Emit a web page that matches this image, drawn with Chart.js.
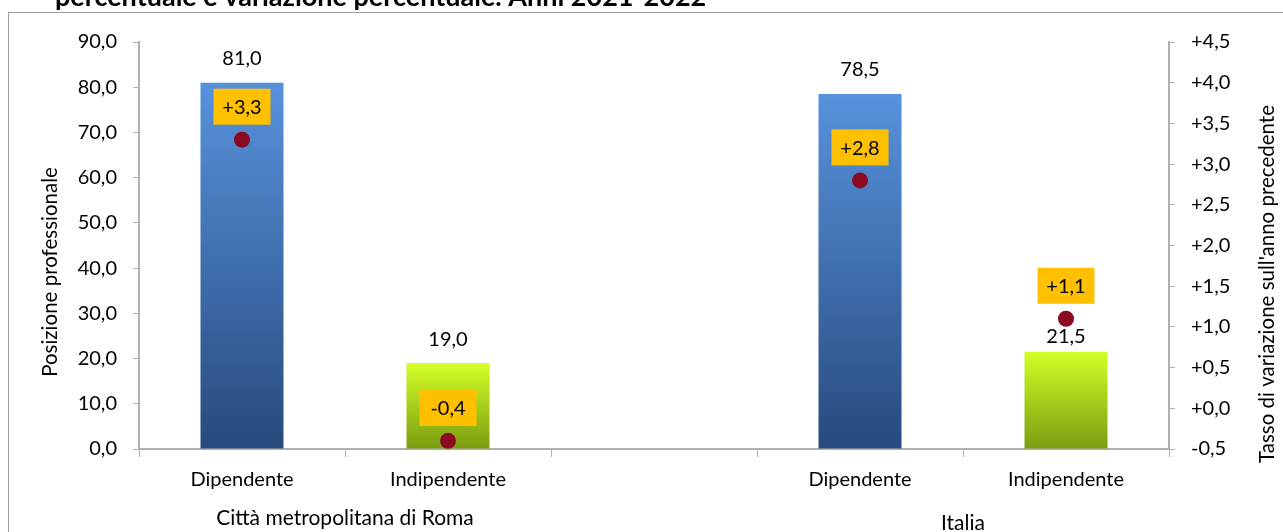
<!DOCTYPE html>
<html>
<head>
<meta charset="utf-8">
<script src="https://cdn.jsdelivr.net/npm/chart.js@4"></script>
<style>
  html, body { margin: 0; padding: 0; background: #fff; overflow: hidden; }
  #wrap { position: absolute; left: 0; top: 0; width: 1283px; height: 532px; }
</style>
</head>
<body>
<div id="wrap"><canvas id="chart"></canvas></div>
<script>
// data
const categories = ['Dipendente', 'Indipendente', '', 'Dipendente', 'Indipendente'];
const groups = ['Città metropolitana di Roma', 'Italia'];
const shares = [81.0, 19.0, null, 78.5, 21.5];        // composizione %
const changes = [3.3, -0.4, null, 2.8, 1.1];          // variazione % 2021-2022
const titleText = 'percentuale e variazione percentuale. Anni 2021-2022';
const leftTitle = 'Posizione professionale';
const rightTitle = "Tasso di variazione sull'anno precedente";

const FONT = 'Lato';
const fmt = v => v.toFixed(1).replace('.', ',');
const fmtSign = v => (v >= 0 ? '+' : '') + fmt(Math.abs(v) < 1e-9 ? 0 : v);

function barFill(ctx) {
  const chart = ctx.chart;
  const i = ctx.dataIndex;
  const blue = categories[i] === 'Dipendente';
  if (!chart.chartArea || ctx.type !== 'data' || ctx.raw == null) return blue ? '#4a7cc0' : '#a8d41a';
  const y = chart.scales.y;
  const top = y.getPixelForValue(ctx.raw);
  const bot = y.getPixelForValue(0);
  const g = chart.ctx.createLinearGradient(0, top, 0, bot);
  if (blue) {
    g.addColorStop(0, '#5792dc');
    g.addColorStop(1, '#284a7d');
  } else {
    g.addColorStop(0, '#d4ff26');
    g.addColorStop(1, '#7a9c10');
  }
  return g;
}

const extras = {
  id: 'extras',
  afterDatasetsDraw(chart) {
    const c = chart.ctx;
    const bars = chart.getDatasetMeta(0).data;
    const dots = chart.getDatasetMeta(1).data;
    c.save();
    c.textAlign = 'center';
    c.textBaseline = 'middle';
    c.font = '20px ' + FONT;
    c.fillStyle = '#000';
    // value labels above the bars
    bars.forEach((b, i) => {
      if (shares[i] == null) return;
      let ly = b.y - 24;
      const d = dots[i];
      if (d && Math.abs(d.y - ly) < 20) ly = d.y + 18;
      c.fillText(fmt(shares[i]), b.x, ly);
    });
    // orange boxes with the change
    dots.forEach((d, i) => {
      if (changes[i] == null) return;
      const cy = d.y - 33;
      c.fillStyle = '#ffc000';
      c.fillRect(d.x - 28.5, cy - 18, 57, 36);
      c.fillStyle = '#000';
      c.fillText(fmtSign(changes[i]), d.x, cy + 1);
    });
    c.restore();
  },
  afterDraw(chart) {
    const c = chart.ctx;
    const x = chart.scales.x;
    c.save();
    // frame
    c.strokeStyle = '#a0a0a0';
    c.lineWidth = 1;
    c.strokeRect(8.5, 12.5, 1400, 600);
    // title (cut at the top)
    c.fillStyle = '#000';
    c.font = 'bold 27px ' + FONT;
    c.textAlign = 'left';
    c.textBaseline = 'alphabetic';
    c.fillText(titleText, 55, 6);
    // group labels
    c.font = '21px ' + FONT;
    c.textAlign = 'center';
    c.textBaseline = 'middle';
    c.fillText(groups[0], (x.getPixelForValue(0) + x.getPixelForValue(1)) / 2, 518);
    c.fillText(groups[1], (x.getPixelForValue(3) + x.getPixelForValue(4)) / 2, 523);
    // axis titles
    c.font = '20.5px ' + FONT;
    c.translate(50, 272);
    c.rotate(-Math.PI / 2);
    c.fillText(leftTitle, 0, 0);
    c.rotate(Math.PI / 2);
    c.translate(1267 - 50, 284 - 272);
    c.rotate(-Math.PI / 2);
    c.fillText(rightTitle, 0, 0);
    c.restore();
  }
};

const axisGrey = '#b0b0b0';

new Chart(document.getElementById('chart'), {
  data: {
    labels: categories,
    datasets: [
      {
        type: 'bar',
        data: shares,
        yAxisID: 'y',
        backgroundColor: barFill,
        barPercentage: 0.403,
        categoryPercentage: 1,
        order: 2
      },
      {
        type: 'line',
        data: changes,
        yAxisID: 'y2',
        showLine: false,
        pointRadius: 8,
        pointHoverRadius: 8,
        pointBackgroundColor: '#8b0a22',
        pointBorderWidth: 0,
        order: 1
      }
    ]
  },
  options: {
    responsive: true,
    maintainAspectRatio: false,
    animation: false,
    layout: { padding: { left: 0, top: 42, right: 0, bottom: 0 } },
    plugins: { legend: { display: false }, tooltip: { enabled: false } },
    scales: {
      x: {
        offset: true,
        grid: { offset: true, drawOnChartArea: false, tickLength: 8, color: axisGrey },
        border: { color: axisGrey, width: 2 },
        ticks: { color: '#000', font: { family: FONT, size: 20 }, padding: 11, maxRotation: 0 },
        afterFit: s => { s.height = 83; }
      },
      y: {
        position: 'left',
        min: 0, max: 90,
        grid: { drawOnChartArea: false, tickLength: 6, color: axisGrey },
        border: { color: axisGrey, width: 2 },
        ticks: { stepSize: 10, color: '#000', font: { family: FONT, size: 20 }, padding: 16, callback: v => fmt(v) },
        afterFit: s => { s.width = 139; }
      },
      y2: {
        position: 'right',
        min: -0.5, max: 4.5,
        grid: { drawOnChartArea: false, tickLength: 6, color: axisGrey },
        border: { color: axisGrey, width: 2 },
        ticks: { stepSize: 0.5, color: '#000', font: { family: FONT, size: 20 }, padding: 16, callback: v => fmtSign(v) },
        afterFit: s => { s.width = 114; }
      }
    }
  },
  plugins: [extras]
});
</script>
</body>
</html>
